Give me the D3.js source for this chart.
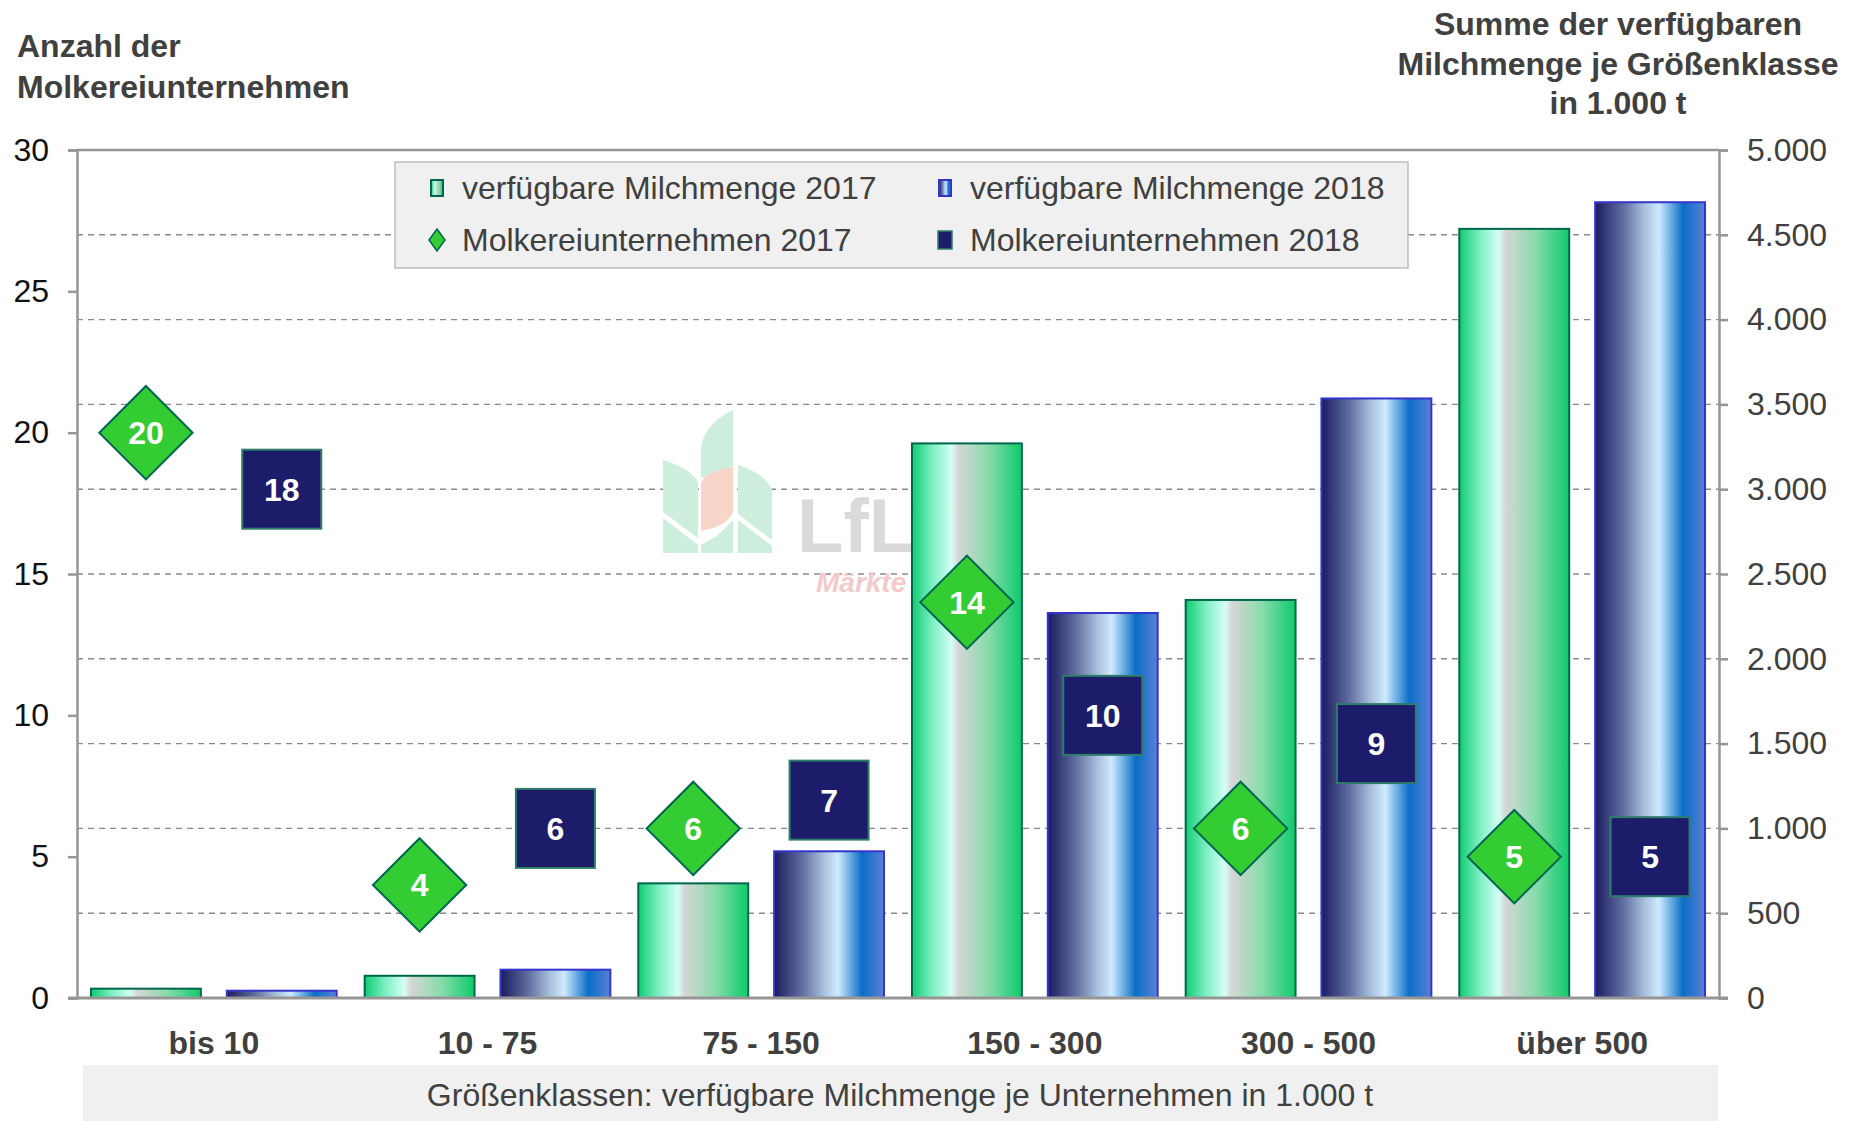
<!DOCTYPE html>
<html>
<head>
<meta charset="utf-8">
<script src="https://cdn.jsdelivr.net/npm/d3@7"></script>
<style>
  body { margin: 0; background: #fff; }
  svg { display: block; font-family: "Liberation Sans", Arial, sans-serif; }
</style>
</head>
<body>
<div class="wrapper"></div>
<script>
const w = 1859
const h = 1121
const left = 77
const right = 1719
const top_ = 150
const bottom = 998
const fontSize = 32

// data
const categories = ["bis 10", "10 - 75", "75 - 150", "150 - 300", "300 - 500", "über 500"]
const milk2017 = [55, 131, 676, 3270, 2347, 4535]
const milk2018 = [43, 167, 865, 2270, 3535, 4692]
const firms2017 = [20, 4, 6, 14, 6, 5]
const firms2018 = [18, 6, 7, 10, 9, 5]
const leftTicks = [0, 5, 10, 15, 20, 25, 30]
const rightTicks = [0, 500, 1000, 1500, 2000, 2500, 3000, 3500, 4000, 4500, 5000]
const legendLabels = ["verfügbare Milchmenge 2017", "verfügbare Milchmenge 2018", "Molkereiunternehmen 2017", "Molkereiunternehmen 2018"]

const de = d3.formatLocale({ decimal: ",", thousands: ".", grouping: [3], currency: ["", " €"] })
const fmt = de.format(",d")

const xScale = d3.scaleBand().domain(categories).range([left, right])
const inner = d3.scaleBand().domain(["2017", "2018"]).range([0, xScale.bandwidth()])
  .paddingInner(0.191).paddingOuter(0.103)
const yLeft = d3.scaleLinear().domain([0, 30]).range([bottom, top_])
const yRight = d3.scaleLinear().domain([0, 5000]).range([bottom, top_])

const svg = d3.select(".wrapper").append("svg").attr("width", w).attr("height", h)

// gradients
const defs = svg.append("defs")
const g17 = defs.append("linearGradient").attr("id", "g17")
;[[0, "#10cc72"], [0.18, "#7aeec0"], [0.36, "#d4fff6"], [0.42, "#d6d6d6"], [0.7, "#86dcaa"], [1, "#0ccb6a"]]
  .forEach(s => g17.append("stop").attr("offset", s[0]).attr("stop-color", s[1]))
const g18 = defs.append("linearGradient").attr("id", "g18")
;[[0, "#1b1b5e"], [0.25, "#5e6c9e"], [0.45, "#a8c0dc"], [0.58, "#cfeaff"], [0.8, "#0a6ec6"], [1, "#5a80d6"]]
  .forEach(s => g18.append("stop").attr("offset", s[0]).attr("stop-color", s[1]))

// gridlines
svg.append("g").selectAll("line")
  .data(rightTicks.filter(t => t > 0 && t < 5000))
  .enter().append("line")
  .attr("x1", left).attr("x2", right)
  .attr("y1", d => yRight(d)).attr("y2", d => yRight(d))
  .attr("stroke", "#8a8a8a").attr("stroke-width", 1.4).attr("stroke-dasharray", "6,5")

// watermark (logo)
const wm = svg.append("g")
const leafGreen = "#cdeedc"
wm.append("path").attr("fill", leafGreen).attr("d", "M701,478 L701,448 Q704,424 733,410 L733,466 Z")
wm.append("path").attr("fill", "#f7d6c9").attr("d", "M701,483 Q704,472 733,467 L733,512 Q728,526 701,531 Z")
wm.append("path").attr("fill", leafGreen).attr("d", "M663,460 Q690,468 698,482 L698,538 L663,512 Z")
wm.append("path").attr("fill", leafGreen).attr("d", "M738,465 Q766,474 772,490 L772,540 L738,514 Z")
wm.append("path").attr("fill", leafGreen).attr("d", "M663,518 L698,545 L698,553 L663,553 Z")
wm.append("path").attr("fill", leafGreen).attr("d", "M701,545 L717,536 L733,520 L733,553 L701,553 Z")
wm.append("path").attr("fill", leafGreen).attr("d", "M738,520 L772,546 L772,553 L738,553 Z")
wm.append("text").attr("x", 797).attr("y", 552).attr("font-size", 76).attr("font-weight", "bold")
  .attr("fill", "#dadada").text("LfL")
wm.append("text").attr("x", 816).attr("y", 592).attr("font-size", 28).attr("font-weight", "bold")
  .attr("font-style", "italic").attr("fill", "#f3caca").text("Märkte")

// bars
const groups = svg.append("g").selectAll("g")
  .data(categories).enter().append("g")
  .attr("transform", d => "translate(" + xScale(d) + ",0)")

groups.append("rect")
  .attr("x", inner("2017")).attr("width", inner.bandwidth())
  .attr("y", (d, i) => yRight(milk2017[i]))
  .attr("height", (d, i) => bottom - yRight(milk2017[i]))
  .attr("fill", "url(#g17)").attr("stroke", "#00664c").attr("stroke-width", 2)

groups.append("rect")
  .attr("x", inner("2018")).attr("width", inner.bandwidth())
  .attr("y", (d, i) => yRight(milk2018[i]))
  .attr("height", (d, i) => bottom - yRight(milk2018[i]))
  .attr("fill", "url(#g18)").attr("stroke", "#3535cc").attr("stroke-width", 2)

// axes frame
svg.append("line").attr("x1", left).attr("x2", right).attr("y1", top_).attr("y2", top_)
  .attr("stroke", "#969696").attr("stroke-width", 2.5)

const yAxisLeft = d3.axisLeft(yLeft).tickValues(leftTicks).tickSize(9).tickPadding(19)
const yAxisRight = d3.axisRight(yRight).tickValues(rightTicks).tickSize(9).tickPadding(19).tickFormat(fmt)

const gl = svg.append("g").attr("transform", "translate(" + left + ",0)").call(yAxisLeft)
const gr = svg.append("g").attr("transform", "translate(" + right + ",0)").call(yAxisRight)
;[gl, gr].forEach(g => {
  g.select(".domain").attr("stroke", "#969696").attr("stroke-width", 2.5)
  g.selectAll(".tick line").attr("stroke", "#969696").attr("stroke-width", 2.5)
  g.selectAll("text").attr("font-size", fontSize).attr("font-family", "Liberation Sans, Arial, sans-serif")
})
gl.selectAll("text").attr("fill", "#111")
gr.selectAll("text").attr("fill", "#404040")

const xAxis = d3.axisBottom(xScale).tickSize(0).tickPadding(33)
const gx = svg.append("g").attr("transform", "translate(0," + bottom + ")").call(xAxis)
gx.select(".domain").attr("stroke", "#969696").attr("stroke-width", 3)
  .attr("d", "M" + (left - 9) + ",0H" + (right + 9))
gx.selectAll("text").attr("font-size", fontSize).attr("font-weight", "bold").attr("fill", "#404040")
  .attr("font-family", "Liberation Sans, Arial, sans-serif")

// markers
const cx1 = inner("2017") + inner.bandwidth() / 2
const cx2 = inner("2018") + inner.bandwidth() / 2
const diamond = d3.symbol().type(d3.symbolSquare).size(66 * 66)
groups.append("path")
  .attr("d", diamond)
  .attr("transform", (d, i) => "translate(" + cx1 + "," + yLeft(firms2017[i]) + ") rotate(45)")
  .attr("fill", "#33cc33").attr("stroke", "#006650").attr("stroke-width", 2)
groups.append("rect")
  .attr("x", cx2 - 39.5).attr("width", 79).attr("height", 79)
  .attr("y", (d, i) => yLeft(firms2018[i]) - 39.5)
  .attr("fill", "#1c1c6b").attr("stroke", "#2e7d6b").attr("stroke-width", 2)
groups.append("text")
  .attr("x", cx1).attr("y", (d, i) => yLeft(firms2017[i])).attr("dy", "0.36em")
  .attr("text-anchor", "middle").attr("font-size", fontSize).attr("font-weight", "bold").attr("fill", "#fff")
  .text((d, i) => firms2017[i])
groups.append("text")
  .attr("x", cx2).attr("y", (d, i) => yLeft(firms2018[i])).attr("dy", "0.36em")
  .attr("text-anchor", "middle").attr("font-size", fontSize).attr("font-weight", "bold").attr("fill", "#fff")
  .text((d, i) => firms2018[i])

// legend
const lg = svg.append("g")
lg.append("rect").attr("x", 395).attr("y", 162).attr("width", 1013).attr("height", 106)
  .attr("fill", "#f0f0f0").attr("stroke", "#bfbfbf").attr("stroke-width", 1.5)
const legendPos = [[437, 188], [945, 188], [437, 240], [945, 240]]
legendLabels.forEach((label, i) => {
  const [lx, ly] = legendPos[i]
  if (i === 0) lg.append("rect").attr("x", lx - 6).attr("y", ly - 8).attr("width", 12).attr("height", 16)
    .attr("fill", "url(#g17)").attr("stroke", "#00664c").attr("stroke-width", 2)
  if (i === 1) lg.append("rect").attr("x", lx - 6).attr("y", ly - 8).attr("width", 12).attr("height", 16)
    .attr("fill", "url(#g18)").attr("stroke", "#3535cc").attr("stroke-width", 2)
  if (i === 2) lg.append("path").attr("d", `M${lx},${ly - 11}L${lx + 8},${ly}L${lx},${ly + 11}L${lx - 8},${ly}Z`)
    .attr("fill", "#33cc33").attr("stroke", "#006650").attr("stroke-width", 1.5)
  if (i === 3) lg.append("rect").attr("x", lx - 7).attr("y", ly - 9).attr("width", 14).attr("height", 18)
    .attr("fill", "#1c1c6b").attr("stroke", "#2e7d6b").attr("stroke-width", 1.5)
  lg.append("text").attr("x", lx + 25).attr("y", ly).attr("dy", "0.35em")
    .attr("font-size", fontSize).attr("fill", "#404040").text(label)
})

// titles
const tl = svg.append("text").attr("font-size", fontSize).attr("font-weight", "bold").attr("fill", "#404040")
tl.append("tspan").attr("x", 17).attr("y", 57).text("Anzahl der")
tl.append("tspan").attr("x", 17).attr("y", 98).text("Molkereiunternehmen")

const tr = svg.append("text").attr("font-size", fontSize).attr("font-weight", "bold").attr("fill", "#404040")
  .attr("text-anchor", "middle")
tr.append("tspan").attr("x", 1618).attr("y", 35).text("Summe der verfügbaren")
tr.append("tspan").attr("x", 1618).attr("y", 75).text("Milchmenge je Größenklasse")
tr.append("tspan").attr("x", 1618).attr("y", 114).text("in 1.000 t")

// bottom axis title
svg.append("rect").attr("x", 83).attr("y", 1065).attr("width", 1635).attr("height", 56).attr("fill", "#f0f0f0")
svg.append("text").attr("x", 900).attr("y", 1106).attr("text-anchor", "middle")
  .attr("font-size", fontSize).attr("fill", "#404040")
  .text("Größenklassen: verfügbare Milchmenge je Unternehmen in 1.000 t")
</script>
</body>
</html>
